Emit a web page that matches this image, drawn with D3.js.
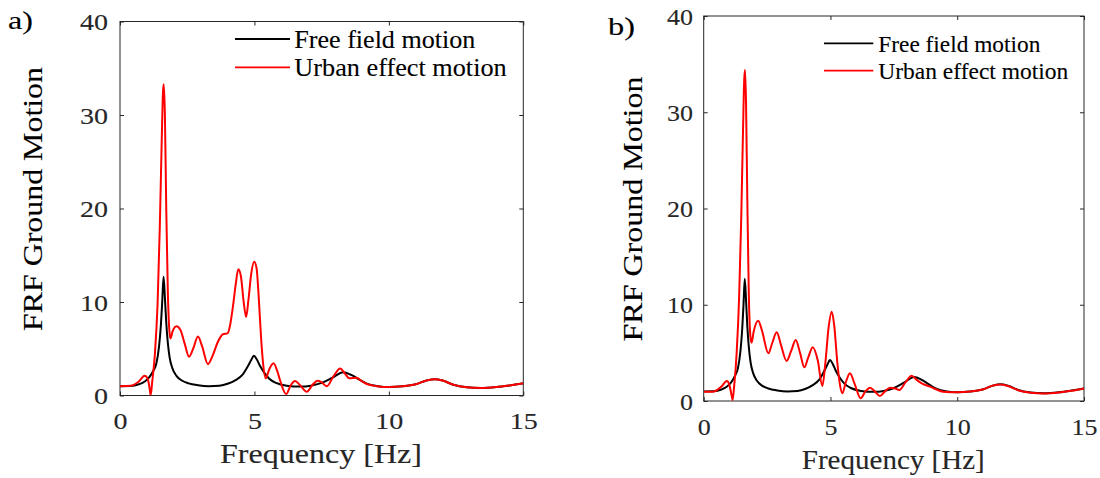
<!DOCTYPE html>
<html lang="en">
<head>
<meta charset="UTF-8">
<title>FRF Ground Motion</title>
<style>
  body { margin: 0; background: #fff; }
  svg { display: block; }
  text { font-family: "Liberation Serif", "Times New Roman", serif; fill: #262626; stroke: #262626; stroke-width: 0.12px; }
</style>
</head>
<body>
<svg id="chart" width="1100" height="478"></svg>
<script src="https://d3js.org/d3.v7.min.js"></script>
<script>
// axis ticks and legend text
const freqTicks = [0, 5, 10, 15];
const motionTicks = [0, 10, 20, 30, 40];
const seriesNames = ['Free field motion', 'Urban effect motion'];
const panelLabels = ['a)', 'b)'];

// free field FRF (same in both panels)
const freeFreq = [0, 0.4, 0.7, 0.92, 1.1, 1.25, 1.35, 1.45, 1.52, 1.57, 1.62, 1.67, 1.72, 1.78, 1.85, 1.95,
  2.1, 2.3, 2.55, 2.9, 3.3, 3.7, 4.0, 4.3, 4.55, 4.75, 4.88, 4.98, 5.08, 5.2, 5.35, 5.55, 5.8,
  6.2, 6.7, 7.1, 7.5, 7.9, 8.3, 8.6, 8.9, 9.2, 9.6, 10.0, 10.5, 11.0, 11.4, 11.7, 12.0, 12.4,
  12.9, 13.4, 14.0, 14.5, 15.0];
const freeVal = [1.0, 1.02, 1.2, 1.5, 2.0, 2.7, 3.4, 5.2, 7.5, 10.0, 12.7, 10.5, 7.8, 5.6, 4.0, 2.9,
  2.1, 1.6, 1.3, 1.1, 1.0, 1.05, 1.25, 1.65, 2.2, 3.1, 3.8, 4.25, 3.9, 3.2, 2.5, 1.8, 1.35,
  1.05, 0.95, 1.05, 1.35, 1.9, 2.5, 2.2, 1.7, 1.25, 1.0, 0.9, 0.98, 1.2, 1.6, 1.75, 1.6, 1.15,
  0.88, 0.8, 0.9, 1.08, 1.3];

// urban effect FRF, panel a
const urbanAFreq = [0, 0.4, 0.7, 0.92, 1.03, 1.1, 1.14, 1.2, 1.3, 1.4, 1.48, 1.55, 1.6, 1.63, 1.67, 1.72,
  1.78, 1.85, 1.88, 1.95, 2.1, 2.25, 2.4, 2.57, 2.72, 2.9, 3.05, 3.27, 3.45, 3.65, 3.83, 4.0,
  4.1, 4.2, 4.3, 4.4, 4.5, 4.6, 4.69, 4.78, 4.88, 4.99, 5.08, 5.16, 5.24, 5.32, 5.42, 5.55,
  5.71, 5.85, 5.95, 6.18, 6.35, 6.51, 6.7, 6.95, 7.15, 7.35, 7.5, 7.69, 7.95, 8.19, 8.35,
  8.53, 8.8, 9.0, 9.18, 9.55, 10.0, 10.5, 11.0, 11.4, 11.7, 12.0, 12.4, 12.9, 13.4, 14.0,
  14.5, 15.0];
const urbanAVal = [1.0, 1.05, 1.5, 2.1, 1.8, 0.8, 0.05, 1.5, 4.5, 10, 18, 27, 32.5, 33.3, 30, 20,
  11, 6.5, 6.1, 6.8, 7.4, 7.0, 5.6, 4.15, 5.0, 6.3, 5.3, 3.35, 4.3, 5.8, 6.55, 6.65,
  7.6, 9.5, 11.8, 13.5, 12.7, 10.0, 8.4, 10.3, 13.0, 14.3, 13.6, 10.5, 6.5, 3.5, 1.84, 2.8,
  3.44, 2.6, 1.66, 0.15, 1.1, 1.55, 1.1, 0.4, 1.1, 1.59, 1.4, 1.0, 2.1, 2.9, 2.4,
  1.84, 1.9, 1.5, 1.23, 1.0, 0.9, 0.98, 1.2, 1.6, 1.75, 1.6, 1.15, 0.88, 0.8, 0.9,
  1.08, 1.3];

// urban effect FRF, panel b
const urbanBFreq = [0, 0.38, 0.7, 0.91, 1.02, 1.1, 1.14, 1.2, 1.3, 1.4, 1.48, 1.55, 1.6, 1.63, 1.67, 1.72,
  1.78, 1.85, 1.89, 1.97, 2.15, 2.3, 2.55, 2.7, 2.88, 3.05, 3.27, 3.45, 3.63, 3.8, 3.97, 4.12,
  4.3, 4.5, 4.68, 4.8, 4.92, 5.05, 5.15, 5.27, 5.38, 5.47, 5.6, 5.77, 5.95, 6.19, 6.38, 6.56,
  6.75, 6.95, 7.15, 7.35, 7.55, 7.72, 7.95, 8.2, 8.4, 8.6, 8.93, 9.45, 10.0, 10.5, 11.0,
  11.4, 11.7, 12.0, 12.4, 12.9, 13.4, 14.0, 14.5, 15.0];
const urbanBVal = [0.97, 0.97, 1.5, 2.08, 1.6, 0.6, 0.1, 1.5, 5, 11, 19, 28, 33.5, 34.4, 31, 21,
  11, 6.5, 6.06, 7.2, 8.35, 7.3, 4.96, 6.0, 7.14, 5.8, 4.16, 5.2, 6.34, 5.0, 3.5, 4.5,
  5.58, 4.2, 1.56, 4.0, 7.5, 9.28, 7.8, 4.0, 1.6, 0.8, 1.9, 2.88, 1.8, 0.28, 1.0, 1.38,
  1.0, 0.52, 1.0, 1.38, 1.3, 1.14, 1.9, 2.63, 2.2, 1.84, 1.49, 0.97, 0.9, 0.98, 1.2,
  1.6, 1.72, 1.55, 1.12, 0.86, 0.78, 0.88, 1.06, 1.3];

const panels = [
  { label: panelLabels[0], urbanF: urbanAFreq, urbanV: urbanAVal,
    left: 120, right: 523.3, top: 21.5, bottom: 395.5,
    labelPos: [8, 29, 25], yTickRight: 108, digitW: 14, xTickBase: 429,
    xLabel: [321, 463, 202], yLabel: [41.7, 199, 264],
    legend: { x0: 235, x1: 290, y: [39, 67.3], tx: 294.3, fs: 24.5, w: [181, 212.4], dy: 9 } },
  { label: panelLabels[1], urbanF: urbanBFreq, urbanV: urbanBVal,
    left: 703.7, right: 1084, top: 16, bottom: 401,
    labelPos: [608, 35, 27], yTickRight: 693, digitW: 13, xTickBase: 435,
    xLabel: [893.3, 469, 183], yLabel: [641.7, 209, 265],
    legend: { x0: 824, x1: 873.3, y: [43.3, 70.7], tx: 878.3, fs: 22.5, w: [162, 190], dy: 8.5 } }
];

const svg = d3.select('#chart');
const axisColor = '#262626';

panels.forEach((p, i) => {
  const g = svg.append('g');
  const x = d3.scaleLinear().domain([0, 15]).range([p.left, p.right]);
  const y = d3.scaleLinear().domain([0, 40]).range([p.bottom, p.top]);

  g.append('clipPath').attr('id', 'clip' + i)
    .append('rect')
    .attr('x', p.left).attr('y', p.top)
    .attr('width', p.right - p.left).attr('height', p.bottom - p.top);

  // inward ticks on all four sides
  const bottomAxis = g.append('g').attr('transform', `translate(0,${p.bottom})`)
    .call(d3.axisBottom(x).tickValues(freqTicks).tickSize(-4).tickSizeOuter(0));
  g.append('g').attr('transform', `translate(0,${p.top})`)
    .call(d3.axisTop(x).tickValues(freqTicks).tickSize(-4).tickSizeOuter(0).tickFormat(''));
  const leftAxis = g.append('g').attr('transform', `translate(${p.left},0)`)
    .call(d3.axisLeft(y).tickValues(motionTicks).tickSize(-4).tickSizeOuter(0));
  g.append('g').attr('transform', `translate(${p.right},0)`)
    .call(d3.axisRight(y).tickValues(motionTicks).tickSize(-4).tickSizeOuter(0).tickFormat(''));

  g.selectAll('.domain').remove();
  g.selectAll('.tick line').attr('stroke', axisColor).attr('stroke-width', 1);

  bottomAxis.selectAll('text')
    .attr('y', p.xTickBase - p.bottom).attr('dy', null)
    .attr('font-size', 24).attr('fill', axisColor)
    .attr('textLength', d => String(d).length * p.digitW)
    .attr('lengthAdjust', 'spacingAndGlyphs');

  leftAxis.selectAll('text')
    .attr('x', p.yTickRight - p.left).attr('dy', '0.34em')
    .attr('font-size', 24).attr('fill', axisColor)
    .attr('textLength', d => String(d).length * p.digitW)
    .attr('lengthAdjust', 'spacingAndGlyphs');

  g.append('rect')
    .attr('x', p.left).attr('y', p.top)
    .attr('width', p.right - p.left).attr('height', p.bottom - p.top)
    .attr('fill', 'none').attr('stroke', axisColor).attr('stroke-width', 1);

  const line = d3.line()
    .x(d => x(d[0]))
    .y(d => y(d[1]))
    .curve(d3.curveMonotoneX);

  const plot = g.append('g').attr('clip-path', `url(#clip${i})`);
  plot.append('path')
    .datum(d3.zip(freeFreq, freeVal))
    .attr('d', line)
    .attr('fill', 'none').attr('stroke', '#000').attr('stroke-width', 2);
  plot.append('path')
    .datum(d3.zip(p.urbanF, p.urbanV))
    .attr('d', line)
    .attr('fill', 'none').attr('stroke', '#ff0000').attr('stroke-width', 2);

  // legend
  const lg = p.legend;
  const colors = ['#000', '#ff0000'];
  seriesNames.forEach((name, k) => {
    g.append('line')
      .attr('x1', lg.x0).attr('x2', lg.x1)
      .attr('y1', lg.y[k]).attr('y2', lg.y[k])
      .attr('stroke', colors[k]).attr('stroke-width', 1.8);
    g.append('text')
      .attr('x', lg.tx).attr('y', lg.y[k] + lg.dy)
      .attr('font-size', lg.fs)
      .style('fill', '#000').style('stroke', '#000')
      .attr('textLength', lg.w[k]).attr('lengthAdjust', 'spacingAndGlyphs')
      .text(name);
  });

  // axis labels
  g.append('text')
    .attr('x', p.xLabel[0]).attr('y', p.xLabel[1])
    .attr('text-anchor', 'middle').attr('font-size', 27)
    .attr('textLength', p.xLabel[2]).attr('lengthAdjust', 'spacingAndGlyphs')
    .text('Frequency [Hz]');

  g.append('text')
    .attr('transform', `translate(${p.yLabel[0]},${p.yLabel[1]}) rotate(-90)`)
    .attr('text-anchor', 'middle').attr('font-size', 28)
    .style('fill', '#000').style('stroke', '#000')
    .attr('textLength', p.yLabel[2]).attr('lengthAdjust', 'spacingAndGlyphs')
    .text('FRF Ground Motion');

  g.append('text')
    .attr('x', p.labelPos[0]).attr('y', p.labelPos[1])
    .attr('font-size', 26)
    .style('fill', '#000').style('stroke', '#000')
    .attr('textLength', p.labelPos[2]).attr('lengthAdjust', 'spacingAndGlyphs')
    .text(p.label);
});
</script>
</body>
</html>
